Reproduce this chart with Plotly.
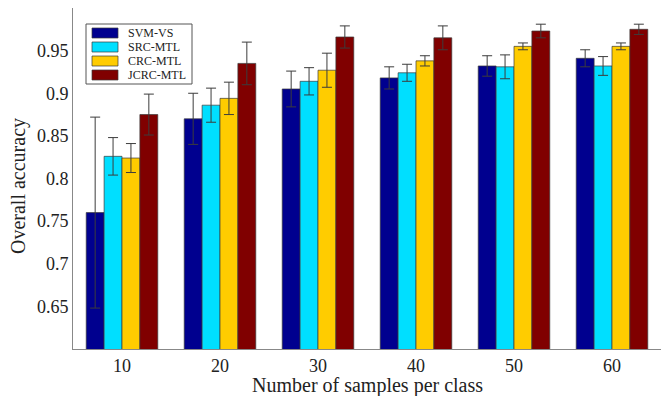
import plotly.graph_objects as go

categories = ["10", "20", "30", "40", "50", "60"]
series_names = ["SVM-VS", "SRC-MTL", "CRC-MTL", "JCRC-MTL"]
svm_vs = [0.760, 0.870, 0.905, 0.918, 0.932, 0.941]
svm_vs_err = [0.112, 0.030, 0.021, 0.013, 0.012, 0.010]
src_mtl = [0.826, 0.886, 0.914, 0.924, 0.931, 0.932]
src_mtl_err = [0.022, 0.020, 0.016, 0.010, 0.014, 0.011]
crc_mtl = [0.824, 0.894, 0.927, 0.938, 0.955, 0.955]
crc_mtl_err = [0.017, 0.019, 0.020, 0.006, 0.004, 0.004]
jcrc_mtl = [0.875, 0.935, 0.966, 0.965, 0.973, 0.975]
jcrc_mtl_err = [0.024, 0.025, 0.013, 0.014, 0.008, 0.006]
y_ticks = [0.65, 0.7, 0.75, 0.8, 0.85, 0.9, 0.95]

colors = ["#00008F", "#00DFFF", "#FFCC00", "#800000"]
values = [svm_vs, src_mtl, crc_mtl, jcrc_mtl]
errors = [svm_vs_err, src_mtl_err, crc_mtl_err, jcrc_mtl_err]

font_family = "Liberation Serif, Times New Roman, serif"

W, H = 663, 396
ML, MR, MT, MB = 73, 2, 8, 47
PW, PH = W - ML - MR, H - MT - MB


def px_x(px):
    return (px - ML) / PW


def px_y(py):
    return (H - MB - py) / PH


fig = go.Figure()
for name, vals, errs, col in zip(series_names, values, errors, colors):
    fig.add_trace(go.Bar(
        name=name, x=categories, y=vals,
        marker=dict(color=col, line=dict(color="#3a3a3a", width=0.7)),
        error_y=dict(type="data", array=errs, visible=True,
                     color="#3c3c3c", thickness=1, width=5),
        showlegend=False,
    ))

# custom legend (box with wide swatches, like the reference)
shapes = [dict(type="rect", xref="paper", yref="paper",
               x0=px_x(86), x1=px_x(192), y0=px_y(84), y1=px_y(24),
               line=dict(color="#555555", width=1), fillcolor="white", layer="above")]
annotations = []
row_centers = [33, 47, 61, 75]
for name, col, yc in zip(series_names, colors, row_centers):
    shapes.append(dict(type="rect", xref="paper", yref="paper",
                       x0=px_x(92), x1=px_x(118), y0=px_y(yc + 5), y1=px_y(yc - 5),
                       line=dict(color="#3a3a3a", width=0.7), fillcolor=col, layer="above"))
    annotations.append(dict(xref="paper", yref="paper", x=px_x(126), y=px_y(yc),
                            xanchor="left", yanchor="middle", showarrow=False,
                            text=name, font=dict(size=12, family=font_family, color="#222222")))

annotations.append(dict(xref="paper", yref="paper", x=px_x(367), y=px_y(386),
                        xanchor="center", yanchor="middle", showarrow=False,
                        text="Number of samples per class",
                        font=dict(size=20, family=font_family, color="#222222")))
annotations.append(dict(xref="paper", yref="paper", x=px_x(18), y=px_y(186),
                        xanchor="center", yanchor="middle", showarrow=False, textangle=-90,
                        text="Overall accuracy",
                        font=dict(size=20, family=font_family, color="#222222")))

fig.update_layout(
    width=W, height=H,
    margin=dict(l=ML, r=MR, t=MT, b=MB),
    paper_bgcolor="white", plot_bgcolor="white",
    barmode="group", bargap=0.27, bargroupgap=0,
    font=dict(family=font_family, color="#222222"),
    showlegend=False,
    shapes=shapes, annotations=annotations,
)
fig.update_xaxes(
    automargin=False, showline=True, linecolor="#888888", linewidth=1, showgrid=False,
    ticks="", tickfont=dict(size=18, family=font_family),
)
fig.update_yaxes(
    automargin=False, range=[0.6, 1.0], showline=True, linecolor="#888888", linewidth=1,
    showgrid=False, zeroline=False, ticks="", tickvals=y_ticks,
    ticktext=[str(v) for v in y_ticks],
    tickfont=dict(size=18, family=font_family),
)

fig.write_html("out.html", config={"displayModeBar": False},
               post_script="document.body.style.margin='0';")
